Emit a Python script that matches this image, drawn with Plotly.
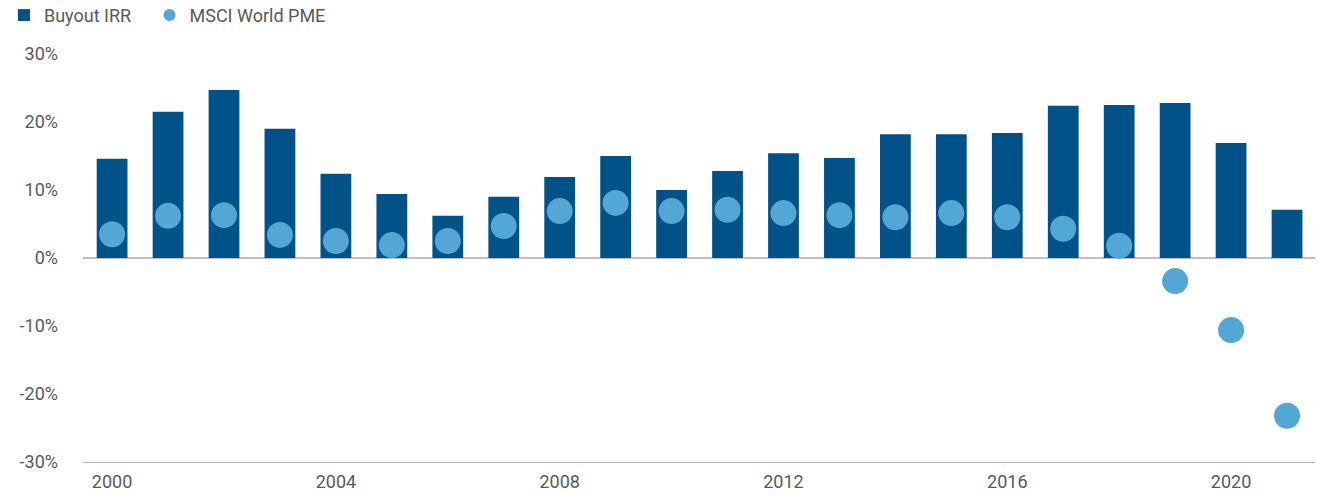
import plotly.graph_objects as go

years = [str(y) for y in range(2000, 2022)]
buyout_irr = [14.6, 21.5, 24.7, 19.0, 12.4, 9.4, 6.2, 9.0, 11.9, 15.0, 10.0, 12.8,
              15.4, 14.7, 18.2, 18.2, 18.4, 22.4, 22.5, 22.8, 16.9, 7.1]
msci_pme = [3.5, 6.2, 6.3, 3.4, 2.5, 1.9, 2.5, 4.7, 6.9, 8.1, 6.9, 7.1,
            6.6, 6.3, 6.0, 6.6, 6.0, 4.3, 1.8, -3.4, -10.6, -23.2]
x_tick_labels = ["2000", "2004", "2008", "2012", "2016", "2020"]
y_ticks = [-30, -20, -10, 0, 10, 20, 30]
y_tick_labels = ["-30%", "-20%", "-10%", "0%", "10%", "20%", "30%"]

fig = go.Figure()
fig.add_trace(go.Bar(x=years, y=buyout_irr, name="Buyout IRR\u00a0\u00a0\u00a0",
                     marker=dict(color="#005288", line=dict(width=0)), width=0.55))
fig.add_trace(go.Scatter(x=years, y=msci_pme, name="MSCI World PME", mode="markers",
                         marker=dict(color="#52a7d5", size=26, line=dict(width=0))))

fig.update_layout(
    width=1318, height=495,
    margin=dict(l=83, r=3, t=54, b=33, autoexpand=False),
    paper_bgcolor="white", plot_bgcolor="white",
    font=dict(family="Roboto", size=18, color="#595959"),
    showlegend=True,
    legend=dict(orientation="h", x=0.003, y=1.14, xref="container", yref="paper",
                xanchor="left", yanchor="top", font=dict(size=18, color="#595959"),
                itemsizing="constant", traceorder="normal", itemwidth=30,
                bgcolor="rgba(0,0,0,0)"),
    xaxis=dict(type="category", range=[-0.52, 21.5], showgrid=False, zeroline=False,
               showline=True, linecolor="#b3b3b3", linewidth=1,
               tickmode="array", tickvals=x_tick_labels, ticktext=x_tick_labels,
               ticks="", tickfont=dict(size=18, color="#595959"), ticklabelstandoff=3),
    yaxis=dict(range=[-30, 30], tickmode="array", tickvals=y_ticks, ticktext=y_tick_labels,
               showgrid=False, zeroline=True, zerolinecolor="#bfbfbf", zerolinewidth=2,
               showline=False, ticks="", ticklabelstandoff=24,
               tickfont=dict(size=18, color="#595959")),
)

fig.write_html("out.html")
